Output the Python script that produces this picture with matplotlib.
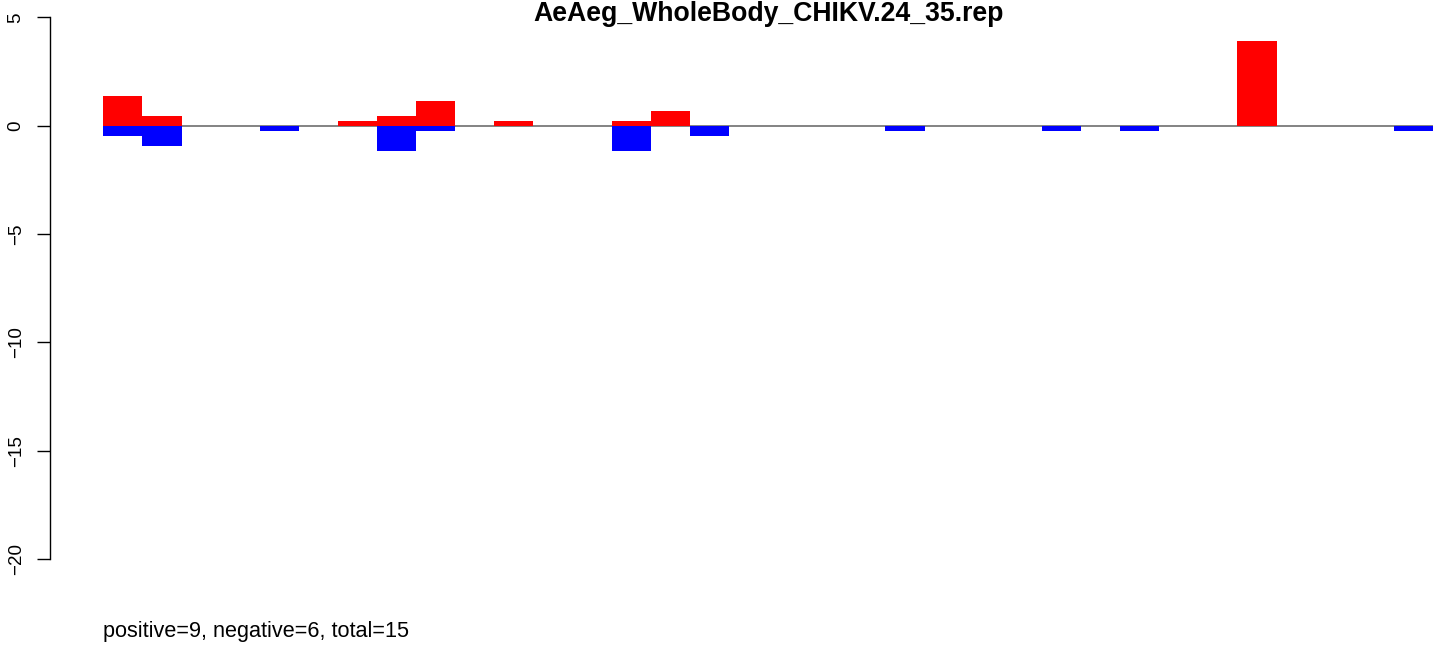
import matplotlib
matplotlib.use("Agg")
import matplotlib.pyplot as plt
import numpy as np

plt.rcParams['font.family'] = ['Liberation Sans', 'DejaVu Sans']

title = "AeAeg_WholeBody_CHIKV.24_35.rep"
footer = "positive=9, negative=6, total=15"

# 34 bar slots (space = 0)
positive = [1.37, 0.46, 0, 0, 0, 0, 0.23, 0.46, 1.15, 0, 0.23, 0, 0, 0.23, 0.69,
            0, 0, 0, 0, 0, 0, 0, 0, 0, 0, 0, 0, 0, 0, 3.91, 0, 0, 0, 0]
negative = [-0.46, -0.92, 0, 0, -0.23, 0, 0, -1.15, -0.23, 0, 0, 0, 0, -1.15, 0,
            -0.46, 0, 0, 0, 0, -0.23, 0, 0, 0, -0.23, 0, -0.23, 0, 0, 0, 0, 0, 0, -0.23]
yticks = [-20, -15, -10, -5, 0, 5]

W, H = 1444, 645
fig = plt.figure(figsize=(W / 100, H / 100), dpi=100)
x0, x1 = 103.3, 1433.0
ytop, ybot = 17.5, 559.0
ax = fig.add_axes([x0 / W, (H - ybot) / H, (x1 - x0) / W, (ybot - ytop) / H])

n = len(positive)
idx = np.arange(n)
ax.axhline(0, color='#7a7a7a', lw=1.3, zorder=1)
ax.bar(idx, positive, width=1.0, align='edge', color='#ff0000', linewidth=0, zorder=2)
ax.bar(idx, negative, width=1.0, align='edge', color='#0000ff', linewidth=0, zorder=2)

ax.set_xlim(0, n)
ax.set_ylim(-20, 5)

for s in ['top', 'right', 'bottom']:
    ax.spines[s].set_visible(False)
ax.spines['left'].set_position(('outward', (x0 - 50.5) * 0.72))
ax.spines['left'].set_bounds(-20, 5)
ax.spines['left'].set_linewidth(1.0)
ax.set_xticks([])
ax.set_yticks(yticks)
ax.set_yticklabels([str(v).replace('-', '\u2212') for v in yticks])
ax.tick_params(axis='y', length=9.6, width=1.0, pad=9.0, labelsize=13.5, labelrotation=90)
for lab in ax.get_yticklabels():
    lab.set_va('center')

fig.text((x0 + x1) / 2 / W, (H - 21.0) / H, title, fontweight='bold', fontsize=19.2,
         ha='center', va='baseline')

fig.text(103.3 / W, (H - 636.7) / H, footer, fontsize=15.6, ha='left', va='baseline')

fig.savefig("out.png", dpi=100)
